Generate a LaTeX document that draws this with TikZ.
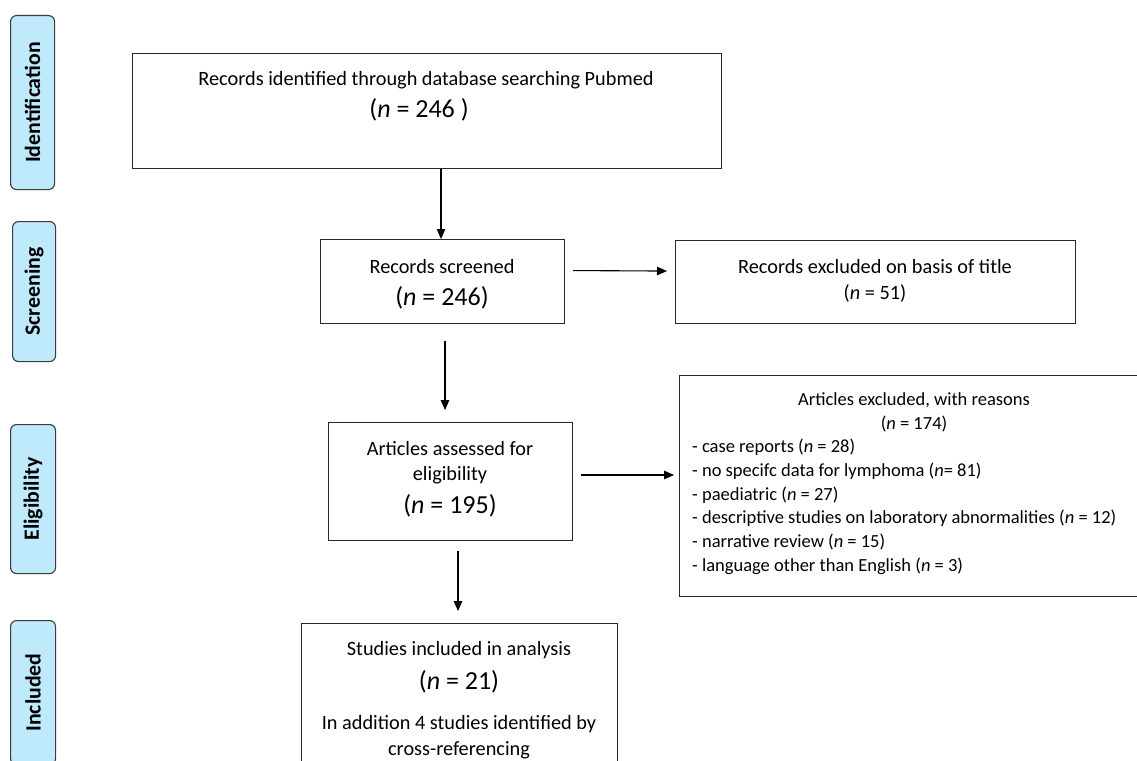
\documentclass[tikz,border=0pt]{standalone}
\usepackage{fontspec}
\setmainfont{Carlito}
\usetikzlibrary{arrows.meta}
\definecolor{tabblue}{RGB}{190,234,252}
\definecolor{tabline}{RGB}{60,60,60}
\definecolor{boxline}{RGB}{40,40,40}
\tikzset{
  box/.style={draw=boxline, line width=1.1pt, minimum width=#1, inner sep=0pt, anchor=north west},
  tab/.style={draw=tabline, fill=tabblue, line width=1.1pt, rounded corners=6pt, inner sep=0pt, anchor=north west, minimum width=44pt},
  tablabel/.style={rotate=90, font=\fontsize{21.8}{24}\selectfont\bfseries, inner sep=0pt},
  txt/.style={font=\fontsize{20.3}{24}\selectfont, inner sep=0pt},
  bigtxt/.style={font=\fontsize{26}{28}\selectfont, inner sep=0pt},
  smalltxt/.style={font=\fontsize{18.5}{22}\selectfont, inner sep=0pt},
  arr/.style={line width=1.1pt, -{Triangle[length=10pt,width=8.5pt]}}
}
\begin{document}
\begin{tikzpicture}[x=1pt,y=-1pt]
\clip (0,0) rectangle (1137,760);
\fill[white] (0,0) rectangle (1137,760);

% side tabs
\node[tab, minimum height=174pt] (t1) at (10,15) {};
\node[tab, minimum height=140pt, minimum width=43pt] (t2) at (12,221) {};
\node[tab, minimum height=149pt, minimum width=45pt] (t3) at (10,424) {};
\node[tab, minimum height=144pt, minimum width=45pt] (t4) at (10,620) {};
\node[tablabel] (l1) at (t1.center) {Identification};
\node[tablabel] (l2) at (t2.center) {Screening};
\node[tablabel] (l3) at (t3.center) {Eligibility};
\node[tablabel] (l4) at (t4.center) {Included};

% boxes
\node[box=589pt, minimum height=115pt] (b1) at (132,53) {};
\node[box=244pt, minimum height=84pt] (b2) at (320,239) {};
\node[box=400pt, minimum height=83pt] (b3) at (675,240) {};
\node[box=244pt, minimum height=118pt] (b4) at (328,422) {};
\node[box=470pt, minimum height=221pt] (b5) at (679,375) {};
\node[box=316pt, minimum height=160pt] (b6) at (301,623) {};

% texts
\node[txt] (x1a) at (426,80) {Records identified through database searching Pubmed};
\node[bigtxt] (x1b) at (419,110) {(\textit{n} = 246 )};

\node[txt] (x2a) at (442,267) {Records screened};
\node[bigtxt] (x2b) at (442,298) {(\textit{n} = 246)};

\node[txt] (x3a) at (875,267) {Records excluded on basis of title};
\node[txt] (x3b) at (875,293) {(\textit{n} = 51)};

\node[txt] (x4a) at (450,449) {Articles assessed for};
\node[txt] (x4b) at (450,475) {eligibility};
\node[bigtxt] (x4c) at (450,506) {(\textit{n} = 195)};

\node[smalltxt] (x5a) at (914,400) {Articles excluded, with reasons};
\node[smalltxt] (x5b) at (914,424) {(\textit{n} = 174)};
\node[smalltxt, anchor=west] (x5c) at (692,447) {- case reports (\textit{n} = 28)};
\node[smalltxt, anchor=west] (x5d) at (692,471) {- no specifc data for lymphoma (\textit{n}= 81)};
\node[smalltxt, anchor=west] (x5e) at (692,495) {- paediatric (\textit{n} = 27)};
\node[smalltxt, anchor=west] (x5f) at (692,518) {- descriptive studies on laboratory abnormalities (\textit{n} = 12)};
\node[smalltxt, anchor=west] (x5g) at (692,542) {- narrative review (\textit{n} = 15)};
\node[smalltxt, anchor=west] (x5h) at (692,566) {- language other than English (\textit{n} = 3)};

\node[txt] (x6a) at (459,650) {Studies included in analysis};
\node[bigtxt] (x6b) at (459,682) {(\textit{n} = 21)};
\node[txt] (x6c) at (459,724) {In addition 4 studies identified by};
\node[txt] (x6d) at (459,750) {cross-referencing};

% connectors
\draw[arr] (b1.south -| 441,0) -- (b2.north -| 441,0);
\draw[arr] ([yshift=11pt]b2.east) ++(8,0) -- ([xshift=-8pt,yshift=11pt]b3.west);
\draw[arr, shorten <=17pt, shorten >=12pt] (b2.south -| 445,0) -- (b4.north -| 445,0);
\draw[arr, shorten <=8pt, shorten >=5pt] (b4.east |- 0,475) -- (b5.west |- 0,475);
\draw[arr, shorten <=10pt, shorten >=12pt] (b4.south -| 458,0) -- (b6.north -| 458,0);
\end{tikzpicture}
\end{document}
